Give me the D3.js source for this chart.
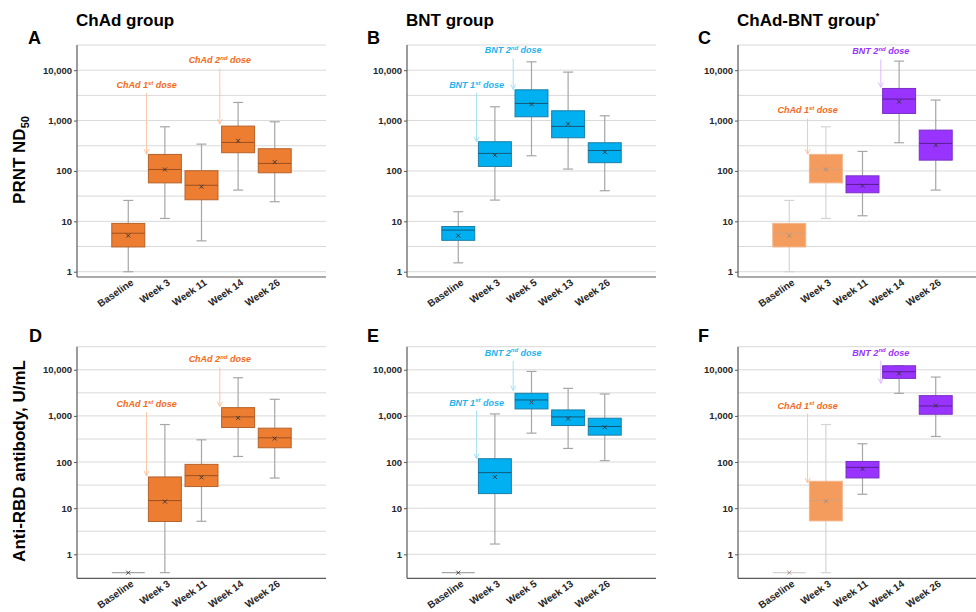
<!DOCTYPE html>
<html>
<head>
<meta charset="utf-8">
<script src="https://cdn.jsdelivr.net/npm/d3@7"></script>
<style>
  body { margin: 0; background: #fff; }
  text { font-family: "Liberation Sans", Arial, sans-serif; }
</style>
</head>
<body>
<svg id="chart" width="976" height="612"></svg>
<script>
// Categories and labels
const groupTitles = ["ChAd group", "BNT group", "ChAd-BNT group"];
const panelLetters = ["A", "B", "C", "D", "E", "F"];
const rowTitles = ["PRNT ND", "Anti-RBD antibody, U/mL"];
const weeksChAd = ["Baseline", "Week 3", "Week 11", "Week 14", "Week 26"];
const weeksBNT = ["Baseline", "Week 3", "Week 5", "Week 13", "Week 26"];
const yTicks = [1, 10, 100, 1000, 10000];

// Box stats per category: [min, q1, median, q3, max, mean]
const prntChAd = [
    [1, 3.1, 5.8, 9.1, 26, 5.2],
    [11.4, 58, 107, 213, 753, 107],
    [4.1, 26.8, 52, 101, 341, 48.6],
    [41.7, 230, 368, 777, 2290, 398],
    [24.5, 92, 141, 276, 946, 150]
];
const prntBNT = [
    [1.5, 4.2, 6.7, 7.9, 15.5, 5.2],
    [26.4, 123, 223, 380, 1880, 206],
    [200, 1190, 2185, 4080, 14680, 2120],
    [109, 456, 765, 1565, 9160, 864],
    [40.5, 146, 255, 363, 1245, 237]
];
const prntMix = [
    [1, 3.1, 5.8, 9.1, 26, 5.2],
    [11.4, 58, 107, 213, 753, 107],
    [12.9, 36.9, 54, 80, 244, 51],
    [363, 1385, 2670, 4340, 15140, 2360],
    [41.7, 164, 352, 647, 2550, 326]
];
const rbdChAd = [
    [0.4, 0.4, 0.4, 0.4, 0.4, 0.4],
    [0.4, 5.15, 14.6, 47.5, 650, 13.9],
    [5.2, 29.4, 50.7, 89, 303, 46.7],
    [132, 560, 951, 1510, 6720, 905],
    [45, 204, 335, 542, 2290, 324]
];
const rbdBNT = [
    [0.4, 0.4, 0.4, 0.4, 0.4, 0.4],
    [1.67, 20.7, 58.9, 118, 1105, 47.5],
    [423, 1416, 2215, 3085, 9200, 1970],
    [197, 618, 951, 1347, 3955, 876],
    [107, 383, 589, 891, 2985, 569]
];
const rbdMix = [
    [0.4, 0.4, 0.4, 0.4, 0.4, 0.4],
    [0.4, 5.3, 14.6, 38.3, 650, 14.1],
    [20, 45.2, 76.7, 103, 249, 70.6],
    [3085, 6500, 9060, 12200, 12200, 8340],
    [358, 1087, 1644, 2750, 6950, 1670]
];

// Which colour each box gets
const colorsChAd = ["chad", "chad", "chad", "chad", "chad"];
const colorsBNT = ["bnt", "bnt", "bnt", "bnt", "bnt"];
const colorsMix = ["chadLight", "chadLight", "mix", "mix", "mix"];

// Dose annotations: [vaccine, ordinal, arrow before category i, arrow from, arrow to, colour]
const annoPrntChAd = [["ChAd", "1st", 1, 3515, 216, "chad"], ["ChAd", "2nd", 3, 10860, 852, "chad"]];
const annoPrntBNT = [["BNT", "1st", 1, 3515, 380, "bnt"], ["BNT", "2nd", 2, 17140, 4160, "bnt"]];
const annoPrntMix = [["ChAd", "1st", 1, 1106, 216, "chad"], ["BNT", "2nd", 3, 16370, 4560, "mix"]];
const annoRbdChAd = [["ChAd", "1st", 1, 1202, 49.9, "chad"], ["ChAd", "2nd", 3, 11270, 1596, "chad"]];
const annoRbdBNT = [["BNT", "1st", 1, 1308, 118, "bnt"], ["BNT", "2nd", 2, 15730, 3540, "bnt"]];
const annoRbdMix = [["ChAd", "1st", 1, 1110, 35.2, "chad"], ["BNT", "2nd", 3, 15730, 5080, "mix"]];

// Styles
const STYLE = {
    chad:      { fill: "#ED7D31", stroke: "#B5622A", med: "#9C5020", whisk: "#a6a6a6", mean: "#333", text: "#F26A21", arrow: "#F9C6A3" },
    bnt:       { fill: "#00B0F0", stroke: "#1B7EA6", med: "#14597a", whisk: "#a6a6a6", mean: "#333", text: "#1FB3EE", arrow: "#A8E0F6" },
    mix:       { fill: "#9933FF", stroke: "#7A2FC2", med: "#5A1E95", whisk: "#a6a6a6", mean: "#333", text: "#9933FF", arrow: "#DDBDFD" },
    chadLight: { fill: "#F39C5E", stroke: "#F2B48A", med: "#D9A07A", whisk: "#d4d4d4", mean: "#a08a7a", text: "#F26A21", arrow: "#F9C6A3" }
};

const svg = d3.select("#chart");
const PW = 249;
const cols = [77, 407, 738];
const rows = [
    { y0: 45, y1: 277, domain: [Math.pow(10, -0.105), Math.pow(10, 4.5)] },
    { y0: 346.7, y1: 578.3, domain: [Math.pow(10, -0.52), Math.pow(10, 4.5)] }
];

const panels = [
    { row: 0, col: 0, cats: weeksChAd, stats: prntChAd, colors: colorsChAd, anno: annoPrntChAd },
    { row: 0, col: 1, cats: weeksBNT, stats: prntBNT, colors: colorsBNT, anno: annoPrntBNT },
    { row: 0, col: 2, cats: weeksChAd, stats: prntMix, colors: colorsMix, anno: annoPrntMix },
    { row: 1, col: 0, cats: weeksChAd, stats: rbdChAd, colors: colorsChAd, anno: annoRbdChAd },
    { row: 1, col: 1, cats: weeksBNT, stats: rbdBNT, colors: colorsBNT, anno: annoRbdBNT },
    { row: 1, col: 2, cats: weeksChAd, stats: rbdMix, colors: colorsMix, anno: annoRbdMix }
];

function drawPanel(p, idx) {
    const x0 = cols[p.col];
    const r = rows[p.row];
    const g = svg.append("g");

    const x = d3.scaleBand()
        .domain(p.cats)
        .range([x0, x0 + PW])
        .paddingInner(0.1)
        .paddingOuter(0.95);
    const y = d3.scaleLog()
        .domain(r.domain)
        .range([r.y1, r.y0]);

    // grid lines every half decade
    const grid = d3.range(0, 4.51, 0.5).map(e => Math.pow(10, e));
    g.selectAll(".grid")
        .data(grid)
        .join("line")
        .attr("x1", x0).attr("x2", x0 + PW)
        .attr("y1", d => y(d)).attr("y2", d => y(d))
        .attr("stroke", "#d9d9d9")
        .attr("stroke-width", 1);

    // y axis
    const yAxis = d3.axisLeft(y)
        .tickValues(yTicks)
        .tickFormat(d3.format(","))
        .tickSize(3)
        .tickPadding(2);
    const ya = g.append("g")
        .attr("transform", `translate(${x0},0)`)
        .call(yAxis);
    ya.select(".domain").attr("stroke", "#595959").attr("stroke-width", 1.2).attr("d", `M0,${r.y0}V${r.y1}`);
    ya.selectAll(".tick line").attr("stroke", "#595959");
    ya.selectAll(".tick text")
        .attr("fill", "#262626")
        .style("font-size", "9.5px")
        .style("font-weight", "bold");

    // x axis baseline
    g.append("line")
        .attr("x1", x0).attr("x2", x0 + PW)
        .attr("y1", r.y1).attr("y2", r.y1)
        .attr("stroke", "#595959")
        .attr("stroke-width", 1.2);

    // x labels
    g.selectAll(".xlab")
        .data(p.cats)
        .join("text")
        .attr("transform", d => `translate(${x(d) + x.bandwidth() / 2 + 6},${r.y1 + 7}) rotate(-35)`)
        .attr("text-anchor", "end")
        .attr("fill", "#262626")
        .style("font-size", "10px")
        .style("font-weight", "bold")
        .text(d => d);

    // boxes
    const bw = x.bandwidth();
    p.stats.forEach((s, i) => {
        const [mn, q1, med, q3, mx, mean] = s;
        const st = STYLE[p.colors[i]];
        const cx = x(p.cats[i]) + bw / 2;
        const bx = g.append("g");

        if (q1 === q3) {
            // all values equal: flat line
            bx.append("line")
                .attr("x1", cx - bw / 2).attr("x2", cx + bw / 2)
                .attr("y1", y(med)).attr("y2", y(med))
                .attr("stroke", st.whisk).attr("stroke-width", 1.2);
        } else {
            // whiskers
            bx.append("line")
                .attr("x1", cx).attr("x2", cx)
                .attr("y1", y(mx)).attr("y2", y(q3))
                .attr("stroke", st.whisk).attr("stroke-width", 1.2);
            bx.append("line")
                .attr("x1", cx).attr("x2", cx)
                .attr("y1", y(q1)).attr("y2", y(mn))
                .attr("stroke", st.whisk).attr("stroke-width", 1.2);
            [mn, mx].forEach(v => {
                bx.append("line")
                    .attr("x1", cx - 5).attr("x2", cx + 5)
                    .attr("y1", y(v)).attr("y2", y(v))
                    .attr("stroke", st.whisk).attr("stroke-width", 1.2);
            });
            bx.append("rect")
                .attr("x", cx - bw / 2)
                .attr("y", y(q3))
                .attr("width", bw)
                .attr("height", y(q1) - y(q3))
                .attr("fill", st.fill)
                .attr("stroke", st.stroke)
                .attr("stroke-width", 1);
            bx.append("line")
                .attr("x1", cx - bw / 2).attr("x2", cx + bw / 2)
                .attr("y1", y(med)).attr("y2", y(med))
                .attr("stroke", st.med).attr("stroke-width", 1);
        }
        // mean marker
        const my = y(mean);
        bx.append("path")
            .attr("d", `M${cx - 2},${my - 2}L${cx + 2},${my + 2}M${cx - 2},${my + 2}L${cx + 2},${my - 2}`)
            .attr("stroke", st.mean)
            .attr("stroke-width", 0.9);
    });

    // dose annotations
    p.anno.forEach(a => {
        const [vac, ord, at, from, to, key] = a;
        const st = STYLE[key];
        const ax = (x(p.cats[at - 1]) + x(p.cats[at])) / 2 + bw / 2;
        const ys = y(from), ye = y(to);
        g.append("line")
            .attr("x1", ax).attr("x2", ax)
            .attr("y1", ys).attr("y2", ye)
            .attr("stroke", st.arrow).attr("stroke-width", 1);
        g.append("path")
            .attr("d", `M${ax - 2.5},${ye - 5}L${ax},${ye}L${ax + 2.5},${ye - 5}`)
            .attr("fill", "none")
            .attr("stroke", st.arrow).attr("stroke-width", 1);
        const t = g.append("text")
            .attr("x", ax).attr("y", ys - 5)
            .attr("text-anchor", "middle")
            .attr("fill", st.text)
            .style("font-size", "9px")
            .style("font-weight", "bold")
            .style("font-style", "italic");
        t.append("tspan").text(`${vac} ${ord.slice(0, 1)}`);
        t.append("tspan").attr("dy", -3.5).style("font-size", "6px").text(ord.slice(1));
        t.append("tspan").attr("dy", 3.5).text(" dose");
    });

    // panel letter
    const letterX = [28, 367, 698];
    svg.append("text")
        .attr("x", letterX[p.col] + (p.row === 1 && p.col === 0 ? 1 : 0))
        .attr("y", p.row === 0 ? 44 : 342)
        .style("font-size", "18px")
        .style("font-weight", "bold")
        .attr("fill", "#000")
        .text(panelLetters[idx]);
}

panels.forEach(drawPanel);

// group titles
groupTitles.forEach((t, i) => {
    const tt = svg.append("text")
        .attr("x", cols[i] - 1)
        .attr("y", 26)
        .style("font-size", "17px")
        .style("font-weight", "bold")
        .attr("fill", "#000")
        .text(t);
    if (i === 2) {
        tt.append("tspan").attr("dy", -7).style("font-size", "9px").text("*");
    }
});

// row titles
const rt1 = svg.append("text")
    .attr("transform", "translate(25,160) rotate(-90)")
    .attr("text-anchor", "middle")
    .style("font-size", "17px")
    .style("font-weight", "bold")
    .attr("fill", "#000");
rt1.append("tspan").text(rowTitles[0]);
rt1.append("tspan").attr("dy", 4).style("font-size", "11px").text("50");

svg.append("text")
    .attr("transform", "translate(25,461) rotate(-90)")
    .attr("text-anchor", "middle")
    .style("font-size", "17px")
    .style("font-weight", "bold")
    .attr("fill", "#000")
    .text(rowTitles[1]);
</script>
</body>
</html>
